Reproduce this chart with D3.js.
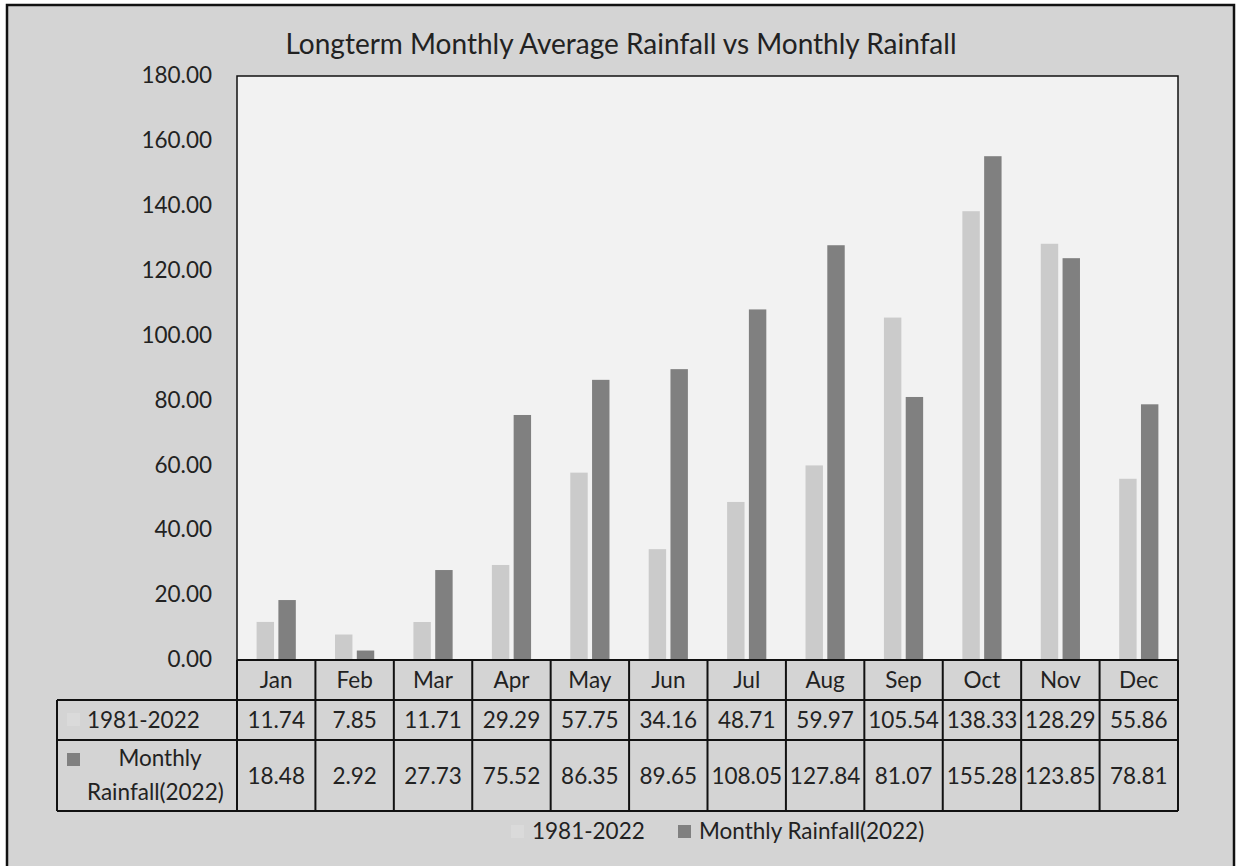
<!DOCTYPE html>
<html>
<head>
<meta charset="utf-8">
<script src="https://cdn.jsdelivr.net/npm/d3@7"></script>
<style>
  body { margin: 0; background: #fff; }
  text { font-family: "Lato", "Open Sans", sans-serif; fill: #222; }
</style>
</head>
<body>
<script>
var months = ["Jan", "Feb", "Mar", "Apr", "May", "Jun", "Jul", "Aug", "Sep", "Oct", "Nov", "Dec"];
var seriesNames = ["1981-2022", "Monthly Rainfall(2022)"];
var longterm = [11.74, 7.85, 11.71, 29.29, 57.75, 34.16, 48.71, 59.97, 105.54, 138.33, 128.29, 55.86];
var rain2022 = [18.48, 2.92, 27.73, 75.52, 86.35, 89.65, 108.05, 127.84, 81.07, 155.28, 123.85, 78.81];
var yTicks = [0, 20, 40, 60, 80, 100, 120, 140, 160, 180];

var colors = ["#cbcbcb", "#808080"];
var keyColors = ["#dadada", "#808080"];
var fs = "22.5px";

var W = 1237, H = 866;
var plot = {left: 237, top: 76, right: 1178, bottom: 660};

var svg = d3.select("body").append("svg")
    .attr("width", W)
    .attr("height", H);

// outer chart frame
svg.append("rect")
    .attr("x", 7).attr("y", 5)
    .attr("width", 1227).attr("height", 870)
    .style("fill", "#d4d4d4")
    .style("stroke", "#111")
    .style("stroke-width", 2.5);

svg.append("text")
    .attr("x", 621).attr("y", 54)
    .attr("text-anchor", "middle")
    .style("font-size", "28px")
    .text("Longterm Monthly Average Rainfall vs Monthly Rainfall");

var x = d3.scaleBand()
    .domain(months)
    .range([plot.left, plot.right]);

var x1 = d3.scaleBand()
    .domain([0, 1])
    .range([0, x.bandwidth()])
    .paddingInner(0.2)
    .paddingOuter(0.9);

var y = d3.scaleLinear()
    .domain([0, 180])
    .range([plot.bottom, plot.top]);

svg.append("rect")
    .attr("x", plot.left).attr("y", plot.top)
    .attr("width", plot.right - plot.left)
    .attr("height", plot.bottom - plot.top)
    .style("fill", "#f2f2f2");

var yAxis = d3.axisLeft(y)
    .tickValues(yTicks)
    .tickFormat(d3.format(".2f"))
    .tickSize(0)
    .tickPadding(25);

var gy = svg.append("g")
    .attr("transform", "translate(" + plot.left + ",0)")
    .call(yAxis);
gy.select(".domain").remove();
gy.selectAll("text")
    .style("font-size", fs)
    .style("font-family", "Lato, 'Open Sans', sans-serif")
    .style("fill", "#222")
    .attr("dy", "0.3em");

var series = [longterm, rain2022];

var groups = svg.selectAll(".month")
    .data(months)
  .enter().append("g")
    .attr("class", "month")
    .attr("transform", function(d) { return "translate(" + x(d) + ",0)"; });

groups.selectAll("rect")
    .data(function(d, i) { return series.map(function(s, k) { return {k: k, v: s[i]}; }); })
  .enter().append("rect")
    .attr("x", function(d) { return x1(d.k); })
    .attr("width", x1.bandwidth())
    .attr("y", function(d) { return y(d.v); })
    .attr("height", function(d) { return y(0) - y(d.v); })
    .style("fill", function(d) { return colors[d.k]; });

svg.append("rect")
    .attr("x", plot.left).attr("y", plot.top)
    .attr("width", plot.right - plot.left)
    .attr("height", plot.bottom - plot.top)
    .style("fill", "none")
    .style("stroke", "#111")
    .style("stroke-width", 1.5);

// data table under the axis
var rowTops = [plot.bottom, 700, 740, 811];
var tableLeft = 57;
var lineStyle = function(sel) { sel.style("stroke", "#111").style("stroke-width", 2); };

var tbl = svg.append("g");

// horizontal lines
tbl.append("line").attr("x1", plot.left).attr("x2", plot.right)
    .attr("y1", rowTops[0]).attr("y2", rowTops[0]).call(lineStyle);
[1, 2, 3].forEach(function(r) {
  tbl.append("line").attr("x1", tableLeft).attr("x2", plot.right)
      .attr("y1", rowTops[r]).attr("y2", rowTops[r]).call(lineStyle);
});
// vertical lines
tbl.append("line").attr("x1", tableLeft).attr("x2", tableLeft)
    .attr("y1", rowTops[1]).attr("y2", rowTops[3]).call(lineStyle);
months.forEach(function(m) {
  tbl.append("line").attr("x1", x(m)).attr("x2", x(m))
      .attr("y1", rowTops[0]).attr("y2", rowTops[3]).call(lineStyle);
});
tbl.append("line").attr("x1", plot.right).attr("x2", plot.right)
    .attr("y1", rowTops[0]).attr("y2", rowTops[3]).call(lineStyle);

// month headers
tbl.selectAll(".mh")
    .data(months)
  .enter().append("text")
    .attr("x", function(d) { return x(d) + x.bandwidth() / 2; })
    .attr("y", (rowTops[0] + rowTops[1]) / 2 + 8)
    .attr("text-anchor", "middle")
    .style("font-size", fs)
    .text(function(d) { return d; });

// values
series.forEach(function(s, k) {
  tbl.selectAll(".v" + k)
      .data(s)
    .enter().append("text")
      .attr("x", function(d, i) { return x(months[i]) + x.bandwidth() / 2; })
      .attr("y", (rowTops[k + 1] + rowTops[k + 2]) / 2 + 8)
      .attr("text-anchor", "middle")
      .style("font-size", fs)
      .text(function(d) { return d.toFixed(2); });
});

// row headers
tbl.append("rect").attr("x", 67).attr("y", 713).attr("width", 13).attr("height", 13)
    .style("fill", keyColors[0]);
tbl.append("text").attr("x", 87).attr("y", 728).style("font-size", fs).text(seriesNames[0]);

tbl.append("rect").attr("x", 67).attr("y", 753).attr("width", 13).attr("height", 13)
    .style("fill", keyColors[1]);
tbl.append("text").attr("x", 160).attr("y", 766).attr("text-anchor", "middle")
    .style("font-size", fs).text("Monthly");
tbl.append("text").attr("x", 87).attr("y", 800)
    .style("font-size", fs).text("Rainfall(2022)");

// legend
var legend = svg.append("g").attr("transform", "translate(511,822)");
var legX = [0, 167];
seriesNames.forEach(function(n, k) {
  legend.append("rect").attr("x", legX[k]).attr("y", 3).attr("width", 13).attr("height", 13)
      .style("fill", keyColors[k]);
  legend.append("text").attr("x", legX[k] + 21).attr("y", 17)
      .style("font-size", fs).text(n);
});
</script>
</body>
</html>
